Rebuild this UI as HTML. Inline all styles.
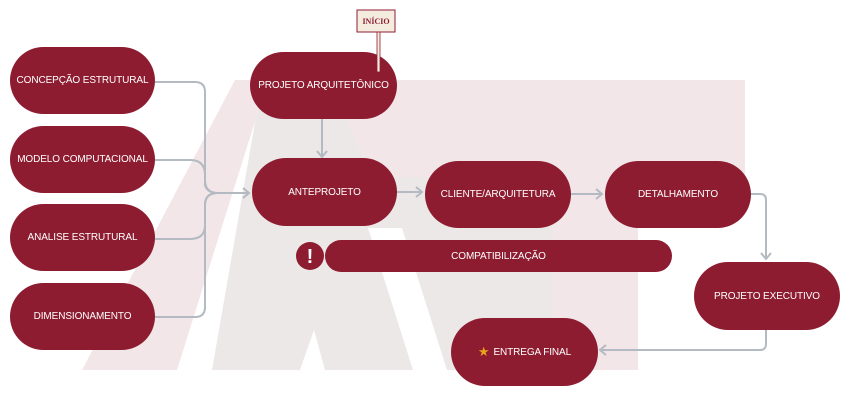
<!DOCTYPE html>
<html><head><meta charset="utf-8"><style>
body{margin:0;width:850px;height:400px;background:#fff;overflow:hidden;position:relative;font-family:"Liberation Sans",sans-serif}
.n{position:absolute;background:#8e1c30;color:#fff;font-size:10px;display:flex;align-items:center;justify-content:center;border-radius:34px;white-space:nowrap;letter-spacing:-0.1px}
svg{position:absolute;left:0;top:0}
</style></head><body>
<svg width="850" height="400">
<polygon points="212,370 262,82 330,80 372,177 553,177 553,370" fill="#ece8e8"/>
<polygon points="368,228 402,228 447,370 413,370" fill="#fff"/>
<polygon points="300,370 314,330 325,370" fill="#fff"/>
<polygon points="82,370 177,370 268,80 235,80" fill="#f2e6e8"/>
<polygon points="330,80 745,80 745,177 638,177 638,370 553,370 553,177 372,177" fill="#f2e6e8"/>
<g fill="none" stroke="#b3bac2" stroke-width="2">
<path d="M155,82 H195 Q205,82 205,92 V180 Q205,193 218,193 H248"/>
<path d="M155,160 H190 Q205,160 205,175 V185 Q207,193 218,193"/>
<path d="M155,239 H190 Q205,239 205,225 V205 Q205,193 218,193"/>
<path d="M155,317 H195 Q205,317 205,307 V205 Q205,193 218,193"/>
<path d="M322,119 V156"/>
<path d="M397,192 H421"/>
<path d="M571,194 H601"/>
<path d="M751,194 H760 Q766,194 766,200 V258"/>
<path d="M766,330 V344 Q766,350 760,350 H602"/>
</g>
<g fill="none" stroke="#b3bac2" stroke-width="2">
<path d="M243,188 L249,193 L243,198"/>
<path d="M317,151 L322,157 L327,151"/>
<path d="M416,187 L422,192 L416,197"/>
<path d="M596,189 L602,194 L596,199"/>
<path d="M761,253 L766,259 L771,253"/>
<path d="M606,345 L600,350 L606,355"/>
</g>
<rect x="357" y="10" width="38" height="22" fill="#f5ece0" stroke="#8e1c30" stroke-width="1"/>
<text x="376" y="24" font-size="8" font-weight="bold" fill="#8e1c30" text-anchor="middle" font-family="Liberation Serif,serif">INÍCIO</text>
<circle cx="310" cy="256" r="14" fill="#8e1c30"/>
<text x="310" y="263" font-size="20" font-weight="bold" fill="#fff" text-anchor="middle">!</text>
</svg>
<div class="n" style="left:10px;top:47px;width:145px;height:67px">CONCEPÇÃO ESTRUTURAL</div>
<div class="n" style="left:10px;top:126px;width:145px;height:67px">MODELO COMPUTACIONAL</div>
<div class="n" style="left:10px;top:204px;width:145px;height:67px">ANALISE ESTRUTURAL</div>
<div class="n" style="left:10px;top:283px;width:145px;height:67px">DIMENSIONAMENTO</div>
<div class="n" style="left:250px;top:52px;width:147px;height:67px">PROJETO ARQUITETÔNICO</div>
<div class="n" style="left:252px;top:158px;width:145px;height:68px">ANTEPROJETO</div>
<div class="n" style="left:425px;top:161px;width:146px;height:67px">CLIENTE/ARQUITETURA</div>
<div class="n" style="left:605px;top:161px;width:146px;height:67px">DETALHAMENTO</div>
<div class="n" style="left:325px;top:240px;width:347px;height:32px;border-radius:16px">COMPATIBILIZAÇÃO</div>
<div class="n" style="left:694px;top:262px;width:146px;height:68px">PROJETO EXECUTIVO</div>
<div class="n" style="left:451px;top:318px;width:147px;height:68px"><span style="color:#e8a21c;font-size:13px;margin-right:4px">★</span>ENTREGA FINAL</div>
<svg width="850" height="400" style="pointer-events:none">
<rect x="377" y="32" width="3" height="40" fill="#f5ece0" stroke="#8e1c30" stroke-width="0.8"/>
</svg>
</body></html>
